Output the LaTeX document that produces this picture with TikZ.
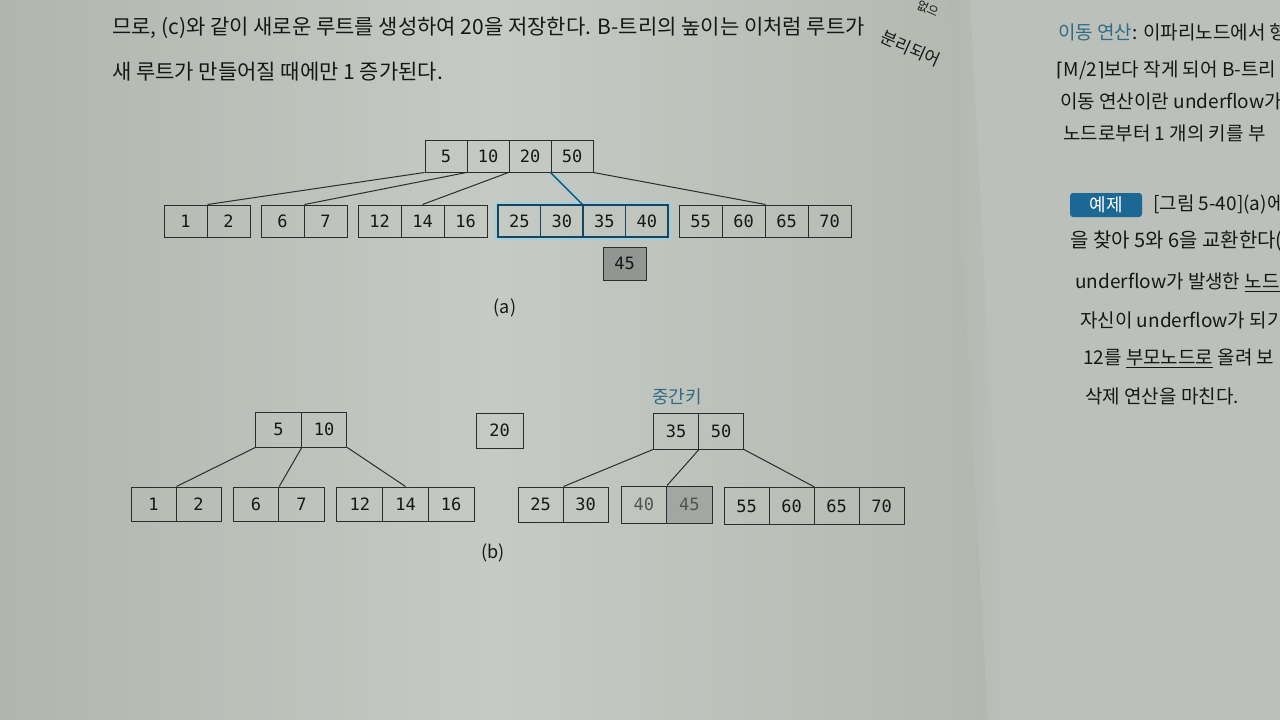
\documentclass[tikz,border=0pt]{standalone}
\usepackage{fontspec}
\setmainfont{Noto Sans CJK KR}
\newfontfamily\monof{DejaVu Sans Mono}
\newfontfamily\djv{DejaVu Sans}
\definecolor{pagec}{RGB}{190,194,187}
\definecolor{pagedark}{RGB}{176,181,174}
\definecolor{pagelight}{RGB}{198,202,196}
\definecolor{rpagec}{RGB}{188,192,186}
\definecolor{gutterc}{RGB}{178,183,176}
\definecolor{linec}{RGB}{42,45,44}
\definecolor{txtc}{RGB}{22,24,24}
\definecolor{softtxt}{RGB}{80,84,82}
\definecolor{bluec}{RGB}{22,70,95}
\definecolor{glowc}{RGB}{150,210,232}
\definecolor{keyc}{RGB}{48,108,132}
\definecolor{grayA}{RGB}{146,149,146}
\definecolor{grayB}{RGB}{163,166,162}
\definecolor{badgec}{RGB}{28,104,148}
\pgfdeclarelayer{bgl}
\pgfdeclarelayer{glowl}
\pgfsetlayers{bgl,glowl,main}
\tikzset{
  cell/.style={draw=linec, line width=1pt, inner sep=0pt, text=txtc,
    font=\monof\fontsize{17}{17}\selectfont},
  bcell/.style={cell, draw=bluec, line width=1.3pt},
  conn/.style={draw=linec, line width=1pt},
  bconn/.style={draw=bluec, line width=1.3pt},
  glow/.style={draw=glowc, line width=4pt, opacity=0.7},
  body/.style={anchor=west, inner sep=0pt, text=txtc, font=\fontsize{21}{21}\selectfont},
  rbody/.style={anchor=west, inner sep=0pt, text=txtc, font=\fontsize{19}{19}\selectfont},
  captxt/.style={inner sep=0pt, text=txtc, font=\fontsize{18}{18}\selectfont},
}
\begin{document}
\begin{tikzpicture}[x=1pt,y=-1pt]
\useasboundingbox (0,0) rectangle (1280,720);
\begin{pgfonlayer}{bgl}
  \fill[pagec] (0,0) rectangle (1280,720);
  \begin{scope}
    \clip (0,0) -- (950,0) -- (988,720) -- (0,720) -- cycle;
    \shade[left color=pagedark, right color=gutterc, middle color=pagelight] (0,0) rectangle (990,720);
  \end{scope}
  \fill[rpagec] (950,0) -- (1280,0) -- (1280,720) -- (988,720) -- cycle;
  \shade[left color=gutterc, right color=rpagec] (950,0) -- (970,0) -- (1008,720) -- (988,720) -- cycle;
\end{pgfonlayer}

% ---------- top text ----------
\node[body] (t1) at (112,28) {므로, (c)와 같이 새로운 루트를 생성하여 20을 저장한다. B-트리의 높이는 이처럼 루트가};
\node[anchor=west, inner sep=0pt, text=txtc, font=\fontsize{17}{17}\selectfont, rotate=-24] (t1b) at (882,36) {분리되어};
\node[anchor=west, inner sep=0pt, text=txtc, font=\fontsize{12}{12}\selectfont, rotate=-24] (t0) at (918,4) {없으};
\node[body] (t2) at (112,72) {새 루트가 만들어질 때에만 1 증가된다.};

% ---------- (a) ----------
\node[cell, minimum width=42pt, minimum height=32pt] (r5)  at (446,156) {5};
\node[cell, minimum width=42pt, minimum height=32pt] (r10) at (488,156) {10};
\node[cell, minimum width=42pt, minimum height=32pt] (r20) at (530,156) {20};
\node[cell, minimum width=42pt, minimum height=32pt] (r50) at (572,156) {50};

\node[cell, minimum width=43pt, minimum height=32pt] (a1)  at (185.5,221) {1};
\node[cell, minimum width=43pt, minimum height=32pt] (a2)  at (228.5,221) {2};
\node[cell, minimum width=43pt, minimum height=32pt] (a6)  at (282.5,221) {6};
\node[cell, minimum width=43pt, minimum height=32pt] (a7)  at (325.5,221) {7};
\node[cell, minimum width=43pt, minimum height=32pt] (a12) at (379.5,221) {12};
\node[cell, minimum width=43pt, minimum height=32pt] (a14) at (422.5,221) {14};
\node[cell, minimum width=43pt, minimum height=32pt] (a16) at (465.5,221) {16};
\node[bcell, minimum width=42.5pt, minimum height=32pt] (a25) at (519.25,221) {25};
\node[bcell, minimum width=42.5pt, minimum height=32pt] (a30) at (561.75,221) {30};
\node[bcell, minimum width=42.5pt, minimum height=32pt] (a35) at (604.25,221) {35};
\node[bcell, minimum width=42.5pt, minimum height=32pt] (a40) at (646.75,221) {40};
\node[cell, minimum width=43pt, minimum height=32pt] (a55) at (700.5,221) {55};
\node[cell, minimum width=43pt, minimum height=32pt] (a60) at (743.5,221) {60};
\node[cell, minimum width=43pt, minimum height=32pt] (a65) at (786.5,221) {65};
\node[cell, minimum width=43pt, minimum height=32pt] (a70) at (829.5,221) {70};
\node[cell, fill=grayA, minimum width=43pt, minimum height=33pt] (a45) at (624.5,263.5) {45};

\begin{pgfonlayer}{glowl}
  \draw[glow] (a25.north west) rectangle (a40.south east);
  \draw[glow] (r50.south west) -- (a35.north west);
\end{pgfonlayer}

\draw[conn] (r5.south west) -- (a1.north east);
\draw[conn] (r10.south west) -- (a6.north east);
\draw[conn] (r20.south west) -- (a14.north);
\draw[bconn] (r50.south west) -- (a35.north west);
\draw[conn] (r50.south east) -- (a60.north east);

\node[captxt] (capa) at (505,308) {(a)};

% ---------- (b) ----------
\node[cell, minimum width=45.5pt, minimum height=35pt] (b5)  at (278.5,429.5) {5};
\node[cell, minimum width=45.5pt, minimum height=35pt] (b10) at (324,429.5) {10};
\node[cell, minimum width=47pt, minimum height=35pt] (b20) at (499.5,430.5) {20};
\node[text=keyc, inner sep=0pt, font=\fontsize{18}{18}\selectfont] (key) at (677,397) {중간키};
\node[cell, minimum width=45pt, minimum height=36pt] (b35) at (676,431) {35};
\node[cell, minimum width=45pt, minimum height=36pt] (b50) at (721,431) {50};

\node[cell, minimum width=45pt, minimum height=34pt] (c1)  at (153.5,504) {1};
\node[cell, minimum width=45pt, minimum height=34pt] (c2)  at (198.5,504) {2};
\node[cell, minimum width=45.5pt, minimum height=34pt] (c6)  at (256,504) {6};
\node[cell, minimum width=45.5pt, minimum height=34pt] (c7)  at (301.5,504) {7};
\node[cell, minimum width=45.67pt, minimum height=34pt] (c12) at (359.83,504) {12};
\node[cell, minimum width=45.67pt, minimum height=34pt] (c14) at (405.5,504) {14};
\node[cell, minimum width=45.67pt, minimum height=34pt] (c16) at (451.17,504) {16};

\node[cell, minimum width=45pt, minimum height=35pt] (d25) at (540.5,504.5) {25};
\node[cell, minimum width=45pt, minimum height=35pt] (d30) at (585.5,504.5) {30};
\node[cell, text=softtxt, minimum width=45.5pt, minimum height=37pt] (d40) at (643.75,504.5) {40};
\node[cell, text=softtxt, fill=grayB, minimum width=45.5pt, minimum height=37pt] (d45) at (689.25,504.5) {45};
\node[cell, minimum width=45pt, minimum height=37pt] (d55) at (746.5,506) {55};
\node[cell, minimum width=45pt, minimum height=37pt] (d60) at (791.5,506) {60};
\node[cell, minimum width=45pt, minimum height=37pt] (d65) at (836.5,506) {65};
\node[cell, minimum width=45pt, minimum height=37pt] (d70) at (881.5,506) {70};

\draw[conn] (b5.south west) -- (c1.north east);
\draw[conn] (b5.south east) -- (c6.north east);
\draw[conn] (b10.south east) -- (c14.north);
\draw[conn] (b35.south west) -- (d25.north east);
\draw[conn] (b35.south east) -- (d40.north east);
\draw[conn] (b50.south east) -- (d60.north east);

\node[captxt] (capb) at (493,553) {(b)};

% ---------- right page ----------
\begin{scope}
  \clip (990,0) rectangle (1280,720);
  \node[rbody] (s1) at (1058,32) {\textcolor{keyc}{이동 연산}: 이파리노드에서 형};
  \node[rbody] (s2) at (1056,70) {{\djv ⌈}M/2{\djv ⌉}보다 작게 되어 B-트리};
  \node[rbody] (s3) at (1060,101) {이동 연산이란 underflow가};
  \node[rbody] (s4) at (1063,133) {노드로부터 1 개의 키를 부};
  \node[fill=badgec, text=white, rounded corners=3pt, minimum width=72pt, minimum height=24pt, inner sep=0pt,
        font=\fontsize{18}{18}\selectfont] (badge) at (1106,205) {예제};
  \node[rbody] (s5) at (1153,205) {[그림 5-40](a)에서};
  \node[rbody, font=\fontsize{20}{20}\selectfont] (s6) at (1070,241) {을 찾아 5와 6을 교환한다(};
  \node[rbody] (s7) at (1075,282) {underflow가 발생한 \underline{노드의}};
  \node[rbody] (s8) at (1080,320) {자신이 underflow가 되기};
  \node[rbody] (s9) at (1083,358) {12를 \underline{부모노드로} 올려 보};
  \node[rbody] (s10) at (1085,396) {삭제 연산을 마친다.};
\end{scope}
\end{tikzpicture}
\end{document}
